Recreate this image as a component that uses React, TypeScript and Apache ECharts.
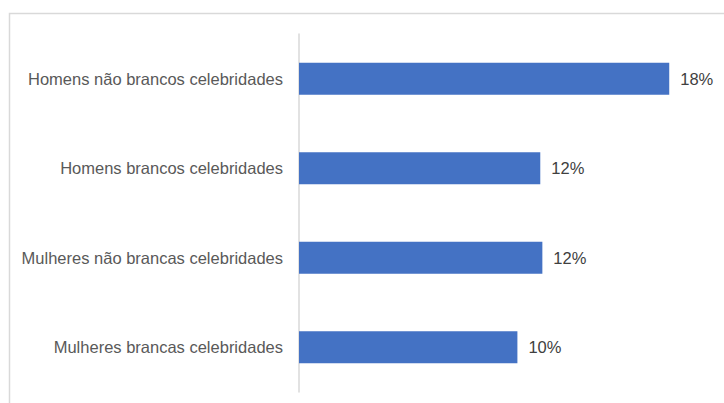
import React, { useEffect, useRef } from "react";
import * as echarts from "echarts";

const categories = [
  "Mulheres brancas celebridades",
  "Mulheres não brancas celebridades",
  "Homens brancos celebridades",
  "Homens não brancos celebridades",
];
const values = [10.5, 11.7, 11.6, 17.8];
const valueLabels = ["10%", "12%", "12%", "18%"];

export default function App() {
  const ref = useRef<HTMLDivElement>(null);
  useEffect(() => {
    document.body.style.margin = "0";
    const chart = echarts.init(ref.current!, null, { renderer: "svg" });
    chart.setOption({
      animation: false,
      backgroundColor: "#ffffff",
      graphic: [
        {
          type: "rect",
          shape: { x: 9.5, y: 13.5, width: 900, height: 600 },
          style: { fill: "none", stroke: "#d9d9d9", lineWidth: 1.5 },
          silent: true,
        },
      ],
      grid: { left: 299, right: 9, top: 34, bottom: 11 },
      xAxis: {
        type: "value",
        min: 0,
        max: 20,
        show: false,
      },
      yAxis: {
        type: "category",
        data: categories,
        axisLine: { show: true, lineStyle: { color: "#d9d9d9", width: 1.5 } },
        axisTick: { show: false },
        axisLabel: {
          color: "#595959",
          fontSize: 16.5,
          fontFamily: "Liberation Sans, Arial, sans-serif",
          margin: 16,
        },
      },
      series: [
        {
          type: "bar",
          data: values,
          barWidth: 32,
          itemStyle: { color: "#4472c4" },
          label: {
            show: true,
            position: "right",
            distance: 11,
            color: "#404040",
            fontSize: 16.5,
            fontFamily: "Liberation Sans, Arial, sans-serif",
            formatter: (p: any) => valueLabels[p.dataIndex],
          },
        },
      ],
    });
    return () => chart.dispose();
  }, []);
  return <div ref={ref} style={{ width: 724, height: 403 }} />;
}
